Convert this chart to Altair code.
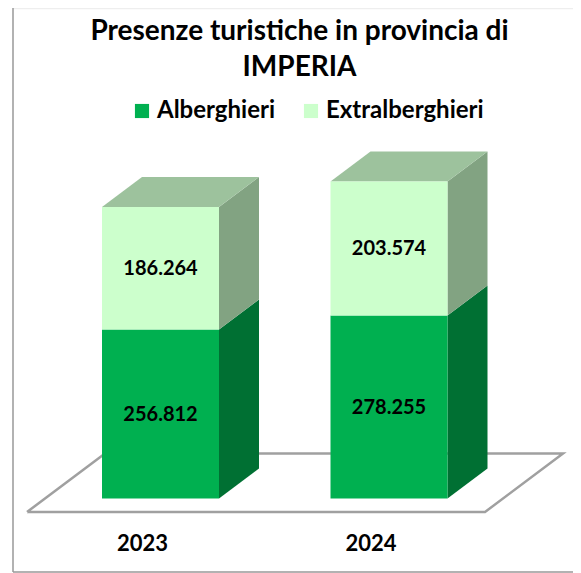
import altair as alt
import pandas as pd

FONT = "Lato"
years = [2023, 2024]
alberghieri = [256812, 278255]
extralberghieri = [186264, 203574]
labels_alb = ["256.812", "278.255"]
labels_ext = ["186.264", "203.574"]
series = ["Alberghieri", "Extralberghieri"]
front_colors = ["#00b050", "#ccffcc"]
side_colors = ["#007033", "#82a382"]
top_color = "#9dc29d"
floor_color = "#a0a0a0"

# scale factors of the drawing (pixels per year / per visitor)
PX_YEAR = 228.5
PX_VAL = 0.000658
SHIFT = 18.5 / PX_YEAR      # bars sit back from the front edge of the floor
HALF = 58.5 / PX_YEAR       # half bar width
DX = 40 / PX_YEAR           # 3D depth in x
DY = 30 / PX_VAL            # 3D depth in y

# floor corners in data units
FLOOR_FRONT = -13.5 / PX_VAL
FLOOR_BACK = 45 / PX_VAL
FLOOR_L = 2023 - 115 / PX_YEAR
FLOOR_R = 2023 + 343 / PX_YEAR
FLOOR_DX = 78 / PX_YEAR

PLOT_W, PLOT_H = 565, 382
TOP_PAD, BOTTOM_PAD = 122, 61
x_scale = alt.Scale(domain=[2023 - 134 / PX_YEAR, 2023 + (PLOT_W - 134) / PX_YEAR], nice=False, zero=False)
y_scale = alt.Scale(domain=[FLOOR_FRONT, FLOOR_FRONT + PLOT_H / PX_VAL], nice=False, zero=False)

front, sides, tops, texts = [], [], [], []
for i, yr in enumerate(years):
    c = yr + SHIFT
    base = 0
    for j, (name, val, lab) in enumerate(
        [(series[0], alberghieri[i], labels_alb[i]), (series[1], extralberghieri[i], labels_ext[i])]
    ):
        front.append({"x": c - HALF, "x2": c + HALF, "y": base, "y2": base + val, "serie": name})
        texts.append({"x": c, "y": base + val / 2, "t": lab})
        key = f"{yr}-{j}"
        sides.append({"id": key, "x": c + HALF, "y": base, "y2": base + val, "fill": side_colors[j]})
        sides.append({"id": key, "x": c + HALF + DX, "y": base + DY, "y2": base + val + DY, "fill": side_colors[j]})
        base += val
    tops.append({"id": str(yr), "y": base, "x": c - HALF, "x2": c + HALF})
    tops.append({"id": str(yr), "y": base + DY, "x": c - HALF + DX, "x2": c + HALF + DX})

floor = pd.DataFrame(
    {
        "x": [FLOOR_L, FLOOR_R, FLOOR_R + FLOOR_DX, FLOOR_L + FLOOR_DX, FLOOR_L],
        "y": [FLOOR_FRONT, FLOOR_FRONT, FLOOR_BACK, FLOOR_BACK, FLOOR_FRONT],
        "o": [0, 1, 2, 3, 4],
    }
)

x_axis = alt.Axis(
    values=years, format="d", title=None, domain=False, ticks=False, grid=False,
    labelFont=FONT, labelFontWeight="bold", labelFontSize=22, labelColor="#000000",
    labelPadding=21,
)
X = alt.X("x:Q", scale=x_scale, axis=x_axis)
Y = alt.Y("y:Q", scale=y_scale, axis=None)

floor_layer = (
    alt.Chart(floor)
    .mark_line(color=floor_color, strokeWidth=2.5, strokeJoin="miter")
    .encode(x=X, y=Y, order="o:Q")
)

side_layer = (
    alt.Chart(pd.DataFrame(sides))
    .mark_area(opacity=1)
    .encode(x=X, y=Y, y2="y2:Q", color=alt.Color("fill:N", scale=None, legend=None), detail="id:N")
)

top_layer = (
    alt.Chart(pd.DataFrame(tops))
    .mark_area(orient="horizontal", color=top_color, opacity=1)
    .encode(y=Y, x=X, x2="x2:Q", detail="id:N")
)

front_layer = (
    alt.Chart(pd.DataFrame(front))
    .mark_rect()
    .encode(
        x=X, x2="x2:Q", y=Y, y2="y2:Q",
        color=alt.Color(
            "serie:N",
            scale=alt.Scale(domain=series, range=front_colors),
            legend=alt.Legend(
                title=None, orient="none", legendX=122, legendY=-31, direction="horizontal", columns=2,
                symbolType="square", symbolSize=200, symbolStrokeWidth=0,
                labelFont=FONT, labelFontWeight="bold", labelFontSize=24, labelColor="#000000",
                labelLimit=300, columnPadding=23, labelOffset=3,
            ),
        ),
    )
)

text_layer = (
    alt.Chart(pd.DataFrame(texts))
    .mark_text(font=FONT, fontWeight="bold", fontSize=20, color="#000000", dy=1)
    .encode(x=X, y=Y, text="t:N")
)

frame_left = alt.Chart(pd.DataFrame({"a": [0]})).mark_rule(color="#999999", strokeWidth=1.5).encode(
    x=alt.value(5), y=alt.value(-122), y2=alt.value(PLOT_H + BOTTOM_PAD - 1)
)
frame_bottom = alt.Chart(pd.DataFrame({"a": [0]})).mark_rule(color="#999999", strokeWidth=1.5).encode(
    x=alt.value(5), x2=alt.value(PLOT_W), y=alt.value(PLOT_H + BOTTOM_PAD - 1)
)
frame_top = alt.Chart(pd.DataFrame({"a": [0]})).mark_rule(color="#eeeeee", strokeWidth=1.5).encode(
    x=alt.value(5), x2=alt.value(PLOT_W), y=alt.value(-121.5)
)

chart = (
    alt.layer(
        frame_top, frame_left, frame_bottom, floor_layer,
        side_layer, top_layer, front_layer, text_layer,
    )
    .resolve_scale(color="independent")
    .properties(
        width=PLOT_W,
        height=PLOT_H,
        padding={"left": 0, "right": 0, "top": TOP_PAD, "bottom": BOTTOM_PAD},
        autosize=alt.AutoSizeParams(type="none"),
        title=alt.TitleParams(
            text=["Presenze turistiche in provincia di", "IMPERIA"],
            font=FONT, fontWeight="bold", fontSize=28, color="#000000",
            lineHeight=36, anchor="middle", dx=9, offset=-75,
        ),
    )
    .configure_view(stroke=None)
)

chart.save("out.html", embed_options={"renderer": "svg", "actions": False})
